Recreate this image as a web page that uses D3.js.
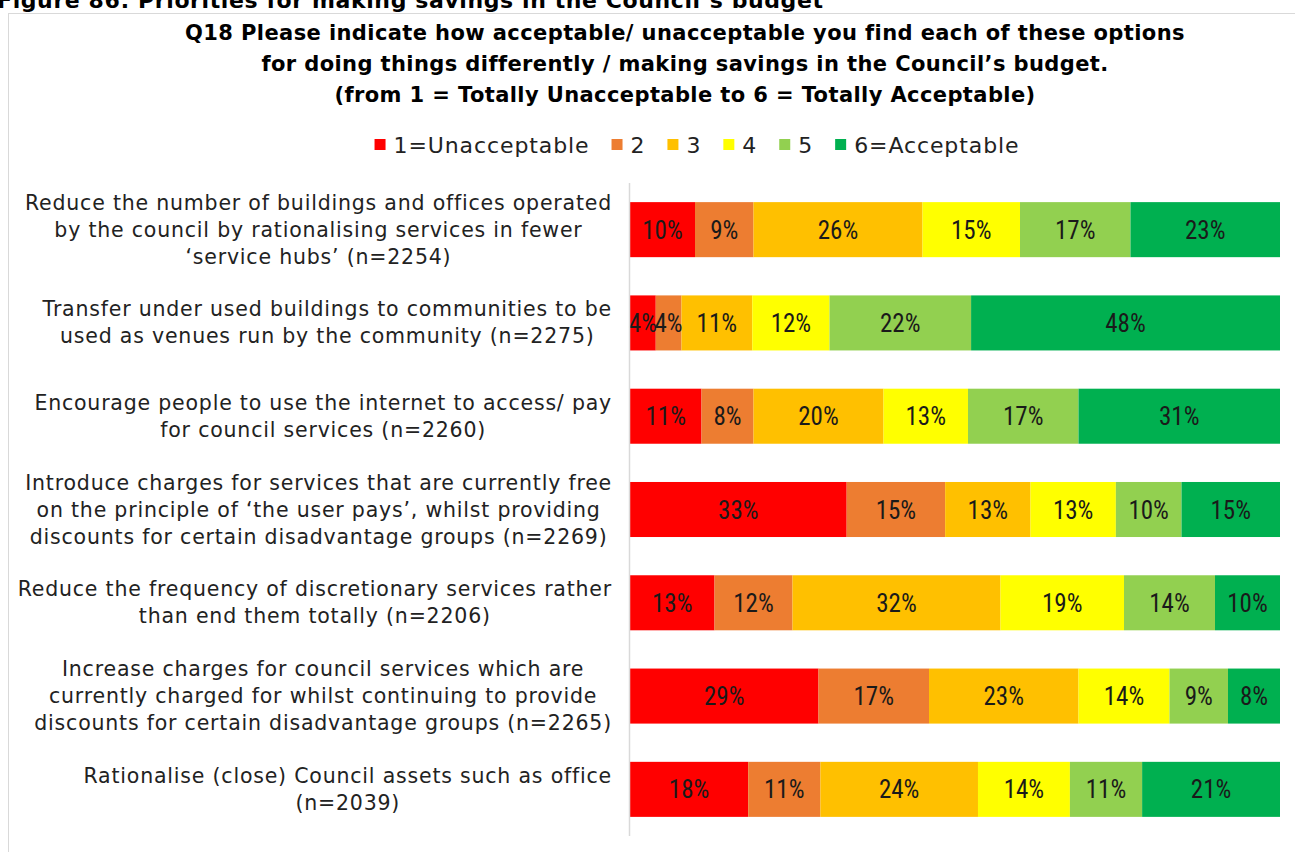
<!DOCTYPE html>
<html>
<head>
<meta charset="utf-8">
<script src="https://cdn.jsdelivr.net/npm/d3@7"></script>
<style>
  body { margin: 0; background: #fff; }
  svg { display: block; }
</style>
</head>
<body>
<div id="chart"></div>
<script>

// categories (each label as its wrapped lines)
var categories = [
  ["Reduce the number of buildings and offices operated", "by the council by rationalising services in fewer", "\u2018service hubs\u2019 (n=2254)"],
  ["Transfer under used buildings to communities to be", "used as venues run by the community (n=2275)"],
  ["Encourage people to use the internet to access/ pay", "for council services (n=2260)"],
  ["Introduce charges for services that are currently free", "on the principle of \u2018the user pays\u2019, whilst providing", "discounts for certain disadvantage groups (n=2269)"],
  ["Reduce the frequency of discretionary services rather", "than end them totally (n=2206)"],
  ["Increase charges for council services which are", "currently charged for whilst continuing to provide", "discounts for certain disadvantage groups (n=2265)"],
  ["Rationalise (close) Council assets such as office", "(n=2039)"]
];

var seriesNames = ["1=Unacceptable", "2", "3", "4", "5", "6=Acceptable"];
var seriesColors = ["#ff0000", "#ed7d31", "#ffc000", "#ffff00", "#92d050", "#00b050"];

var s1 = [10, 4, 11, 33, 13, 29, 18];
var s2 = [9, 4, 8, 15, 12, 17, 11];
var s3 = [26, 11, 20, 13, 32, 23, 24];
var s4 = [15, 12, 13, 13, 19, 14, 14];
var s5 = [17, 22, 17, 10, 14, 9, 11];
var s6 = [23, 48, 31, 15, 10, 8, 21];

var figureCaption = "Figure 86: Priorities for making savings in the Council\u2019s budget";
var titleLines = [
  "Q18 Please indicate how acceptable/ unacceptable you find each of these  options",
  "for doing things differently / making savings in the Council\u2019s budget.",
  "(from 1 = Totally Unacceptable to 6 = Totally Acceptable)"
];

var W = 1295, H = 852;
var margin = { left: 630, right: 15, top: 183, bottom: 16 };
var width = W - margin.left - margin.right;
var height = H - margin.top - margin.bottom;

var labelFont = "'Century Gothic', 'DejaVu Sans', sans-serif";
var valueFont = "'Tw Cen MT', 'Liberation Sans Narrow', 'Roboto Condensed', sans-serif";

var allSeries = [s1, s2, s3, s4, s5, s6];
var rows = categories.map(function (c, i) {
  var r = { idx: i };
  seriesNames.forEach(function (k, j) { r[k] = allSeries[j][i]; });
  return r;
});

var svg = d3.select("#chart").append("svg")
  .attr("width", W)
  .attr("height", H);

// figure caption (clipped at the top, as in the source page)
svg.append("text")
  .attr("x", -3)
  .attr("y", 8)
  .attr("font-family", labelFont)
  .attr("font-weight", "bold")
  .attr("font-size", 22)
  .attr("letter-spacing", 0.6)
  .text(figureCaption);

// frame
svg.append("rect")
  .attr("x", 8.5)
  .attr("y", 13.5)
  .attr("width", W)
  .attr("height", H)
  .attr("fill", "none")
  .attr("stroke", "#d9d9d9");

// title
svg.append("g").selectAll("text")
  .data(titleLines).enter()
  .append("text")
  .attr("x", 685)
  .attr("y", function (d, i) { return 40 + i * 31; })
  .attr("text-anchor", "middle")
  .attr("font-family", labelFont)
  .attr("font-weight", "bold")
  .attr("font-size", 21)
  .attr("letter-spacing", 0.4)
  .text(function (d) { return d; });

// legend
var legend = svg.append("g");
var lx = 0;
seriesNames.forEach(function (name, i) {
  var item = legend.append("g").attr("transform", "translate(" + lx + ",0)");
  item.append("rect")
    .attr("x", 0).attr("y", -6)
    .attr("width", 11).attr("height", 11)
    .attr("fill", seriesColors[i]);
  var t = item.append("text")
    .attr("x", 19)
    .attr("y", 8)
    .attr("font-family", labelFont)
    .attr("font-size", 22)
    .attr("letter-spacing", 0.9)
    .attr("fill", "#222")
    .text(name);
  lx += 19 + t.node().getComputedTextLength() + 22;
});
lx -= 22;
legend.attr("transform", "translate(" + (697 - lx / 2) + ",145)");

var g = svg.append("g")
  .attr("transform", "translate(" + margin.left + "," + margin.top + ")");

var yScale = d3.scaleBand()
  .domain(d3.range(categories.length))
  .range([0, height])
  .paddingInner(0.41)
  .paddingOuter(0.205);

var xScale = d3.scaleLinear()
  .domain([0, 1])
  .range([0, width]);

var stack = d3.stack()
  .keys(seriesNames)
  .offset(d3.stackOffsetExpand);

var layers = stack(rows);

var layer = g.selectAll(".layer")
  .data(layers).enter()
  .append("g")
  .attr("class", "layer")
  .attr("fill", function (d, i) { return seriesColors[i]; });

layer.selectAll("rect")
  .data(function (d) { return d; }).enter()
  .append("rect")
  .attr("x", function (d) { return xScale(d[0]); })
  .attr("y", function (d) { return yScale(d.data.idx); })
  .attr("width", function (d) { return xScale(d[1]) - xScale(d[0]); })
  .attr("height", yScale.bandwidth());

layers.forEach(function (ser) {
  g.append("g").selectAll("text")
    .data(ser).enter()
    .append("text")
    .attr("x", function (d) { return (xScale(d[0]) + xScale(d[1])) / 2; })
    .attr("y", function (d) { return yScale(d.data.idx) + yScale.bandwidth() / 2 + 9; })
    .attr("text-anchor", "middle")
    .attr("font-family", valueFont)
    .attr("font-size", 25)
    .attr("fill", "#1a1a1a")
    .text(function (d) { return d.data[ser.key] + "%"; });
});

// category axis line
g.append("line")
  .attr("x1", -0.5).attr("x2", -0.5)
  .attr("y1", 0).attr("y2", height)
  .attr("stroke", "#d9d9d9")
  .attr("stroke-width", 1.5);

// category labels: lines centred within a block right-aligned to the axis
categories.forEach(function (lines, i) {
  var block = svg.append("g");
  var texts = lines.map(function (l) {
    return block.append("text")
      .attr("font-family", labelFont)
      .attr("font-size", 20.5)
      .attr("letter-spacing", 0.8)
      .attr("fill", "#222")
      .attr("text-anchor", "middle")
      .text(l);
  });
  var maxW = d3.max(texts, function (t) { return t.node().getComputedTextLength(); });
  var cx = 612 - maxW / 2;
  var cy = margin.top + yScale(i) + yScale.bandwidth() / 2;
  var lh = 27;
  texts.forEach(function (t, j) {
    t.attr("x", cx)
      .attr("y", cy + (j - (lines.length - 1) / 2) * lh + 7);
  });
});

</script>
</body>
</html>
